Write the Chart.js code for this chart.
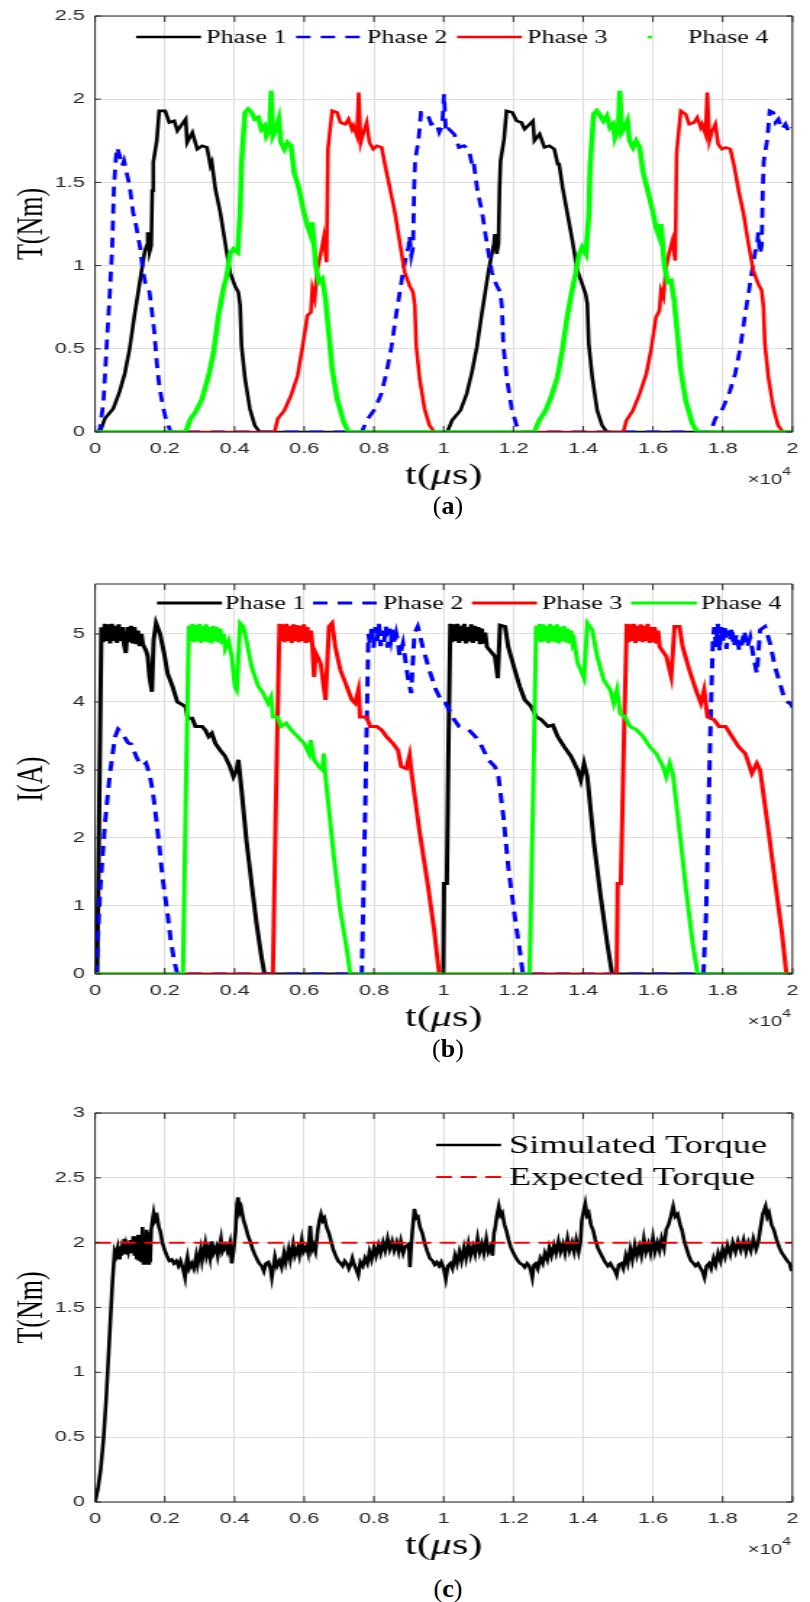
<!DOCTYPE html>
<html lang="en">
<head>
<meta charset="UTF-8">
<title>Phase torque and current</title>
<style>
  body { margin: 0; background: #fff; }
  #page { position: relative; width: 810px; height: 1602px; overflow: hidden; background: #fff; }
  /* the original figure is stretched sideways, so each panel is drawn narrow and widened */
  .panel { position: absolute; left: 0; transform: scaleX(1.449); transform-origin: 0 0; }
  .cap { position: absolute; left: 348px; width: 200px; text-align: center;
         font: 26px "Liberation Serif", "Times New Roman", serif; line-height: 26px; color: #000; }
</style>
</head>
<body>
<div id="page">
  <canvas id="chartA" class="panel" width="559" height="500" style="top:0px"></canvas>
  <canvas id="chartB" class="panel" width="559" height="480" style="top:560px"></canvas>
  <canvas id="chartC" class="panel" width="559" height="470" style="top:1090px"></canvas>
  <div class="cap" style="top:493px">(<b>a</b>)</div>
  <div class="cap" style="top:1036px">(<b>b</b>)</div>
  <div class="cap" style="top:1576px">(<b>c</b>)</div>
</div>
<script src="https://cdn.jsdelivr.net/npm/chart.js@4.4.1/dist/chart.umd.min.js"></script>
<script>
// time axis in microseconds, labels are shown in units of 1e4
const xTicks = [0, 2000, 4000, 6000, 8000, 10000, 12000, 14000, 16000, 18000, 20000];
const xTickLabels = ['0', '0.2', '0.4', '0.6', '0.8', '1', '1.2', '1.4', '1.6', '1.8', '2'];
const torqueTicks = [0, 0.5, 1, 1.5, 2, 2.5];
const currentTicks = [0, 1, 2, 3, 4, 5];
const totalTicks = [0, 0.5, 1, 1.5, 2, 2.5, 3];
const phaseNames = ['Phase 1', 'Phase 2', 'Phase 3', 'Phase 4'];
const totalNames = ['Simulated Torque', 'Expected Torque'];

// (a) phase torque, [t (us), T (Nm)]
const torquePhase1 = [[0,0],[140,0],[280,0.08],[520,0.14],[700,0.24],[850,0.35],[990,0.5],[1130,0.7],[1230,0.83],[1320,0.95],[1420,1.08],[1480,1.12],[1510,1.2],[1560,1.08],[1610,1.12],[1640,1.45],[1670,1.62],[1770,1.75],[1840,1.93],[2010,1.93],[2130,1.86],[2270,1.87],[2360,1.81],[2600,1.88],[2640,1.74],[2790,1.8],[2930,1.7],[3070,1.72],[3210,1.71],[3310,1.6],[3350,1.62],[3450,1.46],[3590,1.32],[3730,1.14],[3870,0.96],[4010,0.88],[4110,0.84],[4160,0.76],[4200,0.52],[4300,0.32],[4440,0.14],[4580,0.04],[4720,0],
  [10100,0],[10240,0.07],[10480,0.13],[10660,0.23],[10810,0.36],[10950,0.51],[11090,0.71],[11190,0.84],[11280,0.96],[11380,1.07],[11440,1.13],[11470,1.19],[11520,1.07],[11570,1.13],[11600,1.46],[11630,1.63],[11730,1.76],[11800,1.93],[11970,1.92],[12090,1.87],[12230,1.86],[12320,1.82],[12560,1.87],[12600,1.75],[12750,1.79],[12890,1.71],[13030,1.72],[13170,1.7],[13270,1.61],[13310,1.61],[13410,1.47],[13550,1.31],[13690,1.15],[13830,0.97],[13970,0.89],[14070,0.83],[14120,0.77],[14160,0.53],[14260,0.33],[14400,0.13],[14540,0.04],[14680,0],[20000,0]];
const torquePhase2 = [[0,0],[90,0],[140,0.02],[240,0.18],[330,0.51],[425,0.84],[490,1.1],[540,1.46],[595,1.64],[630,1.71],[710,1.66],[780,1.6],[830,1.63],[945,1.52],[990,1.48],[1090,1.32],[1160,1.26],[1230,1.18],[1300,1.1],[1370,0.97],[1445,0.89],[1510,0.87],[1560,0.84],[1610,0.76],[1700,0.6],[1770,0.42],[1840,0.28],[1940,0.16],[2030,0.08],[2170,0],
  [7650,0],[7790,0.07],[8030,0.14],[8210,0.23],[8360,0.36],[8500,0.51],[8640,0.71],[8740,0.84],[8830,0.96],[8930,1.07],[8990,1.11],[9020,1.18],[9070,1.06],[9120,1.11],[9150,1.46],[9180,1.63],[9280,1.76],[9350,1.92],[9520,1.92],[9640,1.85],[9780,1.86],[9870,1.8],[9960,1.84],[10010,2.03],[10060,1.8],[10150,1.82],[10300,1.79],[10440,1.71],[10580,1.72],[10720,1.7],[10820,1.6],[10860,1.62],[10960,1.46],[11100,1.32],[11240,1.13],[11380,0.96],[11520,0.88],[11620,0.84],[11670,0.75],[11710,0.52],[11810,0.32],[11950,0.14],[12090,0.04],[12230,0],
  [17650,0],[17790,0.08],[18000,0.14],[18200,0.24],[18360,0.35],[18500,0.5],[18640,0.7],[18740,0.83],[18830,0.95],[18930,1.08],[18990,1.12],[19020,1.2],[19070,1.07],[19120,1.12],[19150,1.45],[19180,1.63],[19280,1.76],[19350,1.93],[19450,1.92],[19520,1.86],[19600,1.88],[19700,1.82],[19800,1.85],[19900,1.8],[20000,1.83]];
const torquePhase3 = [[0,0],[5150,0],[5240,0.08],[5430,0.13],[5620,0.22],[5810,0.34],[5950,0.51],[6090,0.7],[6190,0.72],[6230,0.86],[6300,0.8],[6370,0.97],[6470,1.07],[6560,1.17],[6640,1.02],[6680,1.7],[6800,1.93],[6940,1.92],[7040,1.86],[7180,1.85],[7270,1.88],[7370,1.82],[7410,1.84],[7510,1.78],[7560,2.04],[7620,1.74],[7700,1.8],[7790,1.86],[7870,1.74],[7980,1.7],[8080,1.72],[8220,1.71],[8320,1.6],[8460,1.46],[8600,1.32],[8740,1.14],[8880,0.96],[9020,0.88],[9120,0.84],[9170,0.76],[9210,0.52],[9310,0.32],[9450,0.14],[9590,0.04],[9730,0],
  [15150,0],[15240,0.07],[15430,0.13],[15620,0.23],[15810,0.35],[15950,0.5],[16090,0.69],[16190,0.73],[16230,0.85],[16300,0.81],[16370,0.98],[16470,1.08],[16560,1.15],[16640,1.03],[16680,1.68],[16800,1.93],[16940,1.91],[17040,1.85],[17180,1.86],[17270,1.89],[17370,1.83],[17410,1.85],[17510,1.79],[17560,2.04],[17620,1.75],[17700,1.81],[17790,1.85],[17870,1.73],[17980,1.7],[18080,1.71],[18220,1.7],[18320,1.61],[18460,1.45],[18600,1.31],[18740,1.13],[18880,0.97],[19020,0.89],[19120,0.85],[19170,0.75],[19210,0.53],[19310,0.33],[19450,0.15],[19590,0.04],[19730,0],[20000,0]];
const torquePhase4 = [[0,0],[2600,0],[2740,0.08],[2880,0.12],[3070,0.2],[3260,0.34],[3400,0.48],[3540,0.7],[3680,0.86],[3780,0.94],[3870,1.07],[3970,1.1],[4090,1.08],[4160,1.32],[4200,1.62],[4300,1.92],[4390,1.94],[4490,1.92],[4580,1.88],[4680,1.89],[4770,1.82],[4860,1.84],[4910,1.78],[5010,1.82],[5050,2.05],[5100,1.78],[5190,1.82],[5270,1.88],[5330,1.74],[5430,1.7],[5520,1.74],[5620,1.72],[5710,1.56],[5850,1.46],[5990,1.32],[6090,1.24],[6190,1.18],[6230,1.26],[6330,1.0],[6420,0.9],[6520,0.92],[6610,0.8],[6710,0.58],[6800,0.38],[6940,0.2],[7130,0.06],[7270,0],
  [12600,0],[12740,0.07],[12900,0.12],[13080,0.21],[13260,0.33],[13400,0.49],[13540,0.69],[13680,0.85],[13780,0.95],[13870,1.06],[13970,1.11],[14080,1.07],[14160,1.3],[14200,1.6],[14300,1.91],[14390,1.93],[14490,1.9],[14580,1.87],[14680,1.9],[14770,1.83],[14860,1.85],[14910,1.77],[15010,1.83],[15050,2.05],[15100,1.8],[15190,1.83],[15270,1.87],[15330,1.75],[15430,1.71],[15520,1.75],[15620,1.71],[15710,1.57],[15850,1.45],[15990,1.33],[16090,1.23],[16190,1.17],[16230,1.25],[16330,1.0],[16420,0.9],[16520,0.91],[16610,0.79],[16710,0.57],[16800,0.37],[16940,0.19],[17130,0.05],[17270,0],[20000,0]];

// (b) phase current, [t (us), I (A)]
const currentPhase1 = [[0,0],[60,0],[120,2.5],[180,5.1],[230,4.88],[280,5.15],[330,4.9],[380,5.14],[430,4.86],[480,5.15],[530,4.9],[580,5.12],[630,4.87],[680,5.14],[730,4.9],[780,5.1],[830,4.85],[880,4.72],[930,5.1],[980,4.88],[1030,5.12],[1080,4.86],[1130,5.1],[1180,4.85],[1230,5.05],[1280,4.82],[1330,5.0],[1370,4.85],
  [1465,4.75],[1510,4.67],[1560,4.37],[1630,4.15],[1680,4.91],[1750,5.16],[1860,5.01],[1980,4.72],[2080,4.42],[2220,4.23],[2360,4.0],[2500,3.96],[2600,3.93],[2660,3.76],[2785,3.76],[2880,3.64],[3070,3.64],[3160,3.59],[3260,3.49],[3350,3.54],[3450,3.39],[3590,3.29],[3730,3.2],[3870,3.05],[3970,2.9],[4060,3.0],[4110,3.15],[4200,2.71],[4340,1.97],[4490,1.33],[4630,0.75],[4770,0.26],[4860,0],
  [9990,0],[10010,1.33],[10090,1.33],[10140,3.5],[10190,5.15],[10240,4.88],[10290,5.14],[10340,4.9],[10390,5.15],[10440,4.87],[10490,5.12],[10540,4.9],[10590,5.15],[10640,4.86],[10690,5.1],[10740,4.89],[10790,5.14],[10840,4.87],[10890,5.12],[10940,4.9],[10990,5.1],[11040,4.85],[11090,5.08],[11140,4.86],[11190,5.02],[11240,4.81],
  [11470,4.67],[11550,4.35],[11615,5.13],[11760,5.11],[11850,4.81],[12040,4.47],[12180,4.23],[12325,4.03],[12510,3.93],[12660,3.78],[12800,3.74],[12990,3.64],[13130,3.66],[13270,3.49],[13460,3.34],[13650,3.2],[13840,3.0],[13930,2.85],[14025,3.1],[14120,2.9],[14310,1.92],[14500,1.14],[14690,0.45],[14830,0],[20000,0]];
const currentPhase2 = [[0,0],[30,0],[140,1.2],[280,2.2],[425,2.94],[570,3.48],[660,3.6],[800,3.52],[945,3.4],[1040,3.38],[1180,3.2],[1275,3.1],[1370,3.06],[1460,3.1],[1560,2.94],[1650,2.7],[1750,2.3],[1840,1.9],[1935,1.42],[2080,0.88],[2170,0.5],[2265,0.2],[2360,0],
  [7650,0],[7750,2.5],[7840,5.0],[7890,4.85],[7940,5.12],[7990,4.8],[8040,5.1],[8090,4.9],[8140,5.15],[8190,4.82],[8240,5.05],[8290,4.88],[8340,5.12],[8390,4.8],[8440,5.08],[8490,4.92],[8540,5.1],[8590,4.85],[8640,5.0],[8690,4.88],[8735,4.67],
  [8830,4.86],[8970,4.37],[9065,4.13],[9160,5.01],[9255,5.11],[9400,4.81],[9585,4.47],[9775,4.18],[9970,3.98],[10060,3.98],[10250,3.78],[10435,3.64],[10720,3.59],[11000,3.44],[11280,3.15],[11470,3.05],[11570,2.9],[11710,2.32],[11850,1.58],[12040,0.84],[12180,0.35],[12270,0],
  [17450,0],[17520,0.8],[17560,1.6],[17600,2.5],[17640,3.4],[17680,4.2],[17720,4.9],[17760,5.1],[17810,4.8],[17860,5.15],[17910,4.75],[17960,5.1],[18010,4.88],[18060,5.12],[18110,4.78],[18160,5.05],[18210,4.9],[18260,5.1],[18320,4.81],[18400,5.0],[18480,4.75],[18555,4.86],[18620,5.05],[18700,4.8],[18790,4.95],[18885,4.67],[18980,4.42],[19075,5.06],[19215,5.11],[19360,4.86],[19500,4.52],[19640,4.28],[19785,4.03],[19975,3.96],[20000,3.92]];
const currentPhase3 = [[0,0],[5100,0],[5190,2.6],[5290,5.15],[5340,4.9],[5390,5.14],[5440,4.88],[5490,5.15],[5540,4.9],[5590,5.12],[5640,4.87],[5690,5.14],[5740,4.9],[5790,5.13],[5840,4.88],[5890,5.12],[5940,4.9],[5990,5.14],[6040,4.87],[6090,5.1],[6140,4.88],[6190,5.05],[6230,4.85],
  [6280,4.37],[6330,4.72],[6470,4.57],[6610,4.03],[6710,5.11],[6800,5.16],[6890,4.81],[7035,4.47],[7180,4.28],[7365,4.03],[7460,3.98],[7555,4.18],[7600,3.78],[7790,3.78],[7890,3.64],[8075,3.64],[8215,3.59],[8360,3.49],[8545,3.39],[8690,3.29],[8780,3.05],[8925,3.02],[9020,3.22],[9065,3.0],[9300,2.12],[9540,1.33],[9725,0.65],[9870,0],
  [14960,0],[14990,1.33],[15080,1.33],[15170,3.5],[15250,5.15],[15300,4.88],[15350,5.14],[15400,4.9],[15450,5.15],[15500,4.87],[15550,5.12],[15600,4.9],[15650,5.14],[15700,4.88],[15750,5.12],[15800,4.9],[15850,5.15],[15900,4.87],[15950,5.1],[16000,4.88],[16050,5.1],[16100,4.86],[16150,5.05],[16195,4.81],
  [16385,4.67],[16525,4.37],[16620,5.11],[16760,5.11],[16855,4.81],[17045,4.47],[17230,4.18],[17375,3.98],[17470,4.18],[17565,3.78],[17750,3.74],[17895,3.64],[18085,3.64],[18270,3.49],[18460,3.34],[18650,3.24],[18840,2.95],[18980,3.1],[19075,3.0],[19310,2.12],[19500,1.38],[19690,0.65],[19830,0],[20000,0]];
const currentPhase4 = [[0,0],[2520,0],[2600,2.5],[2690,5.12],[2740,4.9],[2790,5.15],[2840,4.88],[2890,5.13],[2940,4.9],[2990,5.15],[3040,4.87],[3090,5.12],[3140,4.9],[3190,5.14],[3240,4.88],[3290,5.1],[3340,4.86],[3390,5.12],[3440,4.9],[3490,5.1],[3540,4.88],[3590,5.08],[3640,4.85],[3690,5.0],[3730,4.78],
  [3830,4.9],[3920,4.67],[4010,4.23],[4060,4.18],[4160,5.16],[4250,5.11],[4340,4.91],[4490,4.52],[4680,4.23],[4820,4.13],[4960,3.98],[5050,4.08],[5100,3.78],[5240,3.78],[5330,3.64],[5480,3.69],[5620,3.59],[5810,3.49],[6000,3.39],[6140,3.24],[6185,3.44],[6280,3.15],[6420,3.05],[6520,3.0],[6560,3.24],[6610,2.9],[6850,1.72],[7030,0.94],[7225,0.35],[7320,0],
  [12460,0],[12560,2.5],[12650,5.12],[12700,4.9],[12750,5.15],[12800,4.88],[12850,5.14],[12900,4.9],[12950,5.12],[13000,4.87],[13050,5.15],[13100,4.9],[13150,5.12],[13200,4.88],[13250,5.14],[13300,4.86],[13350,5.1],[13400,4.9],[13450,5.12],[13500,4.88],[13550,5.08],[13600,4.86],[13650,5.05],[13700,4.85],[13740,4.9],
  [13840,4.57],[13930,4.47],[14025,4.35],[14120,5.16],[14260,5.06],[14400,4.67],[14590,4.32],[14780,4.18],[14875,3.98],[14970,4.18],[15060,3.83],[15200,3.78],[15345,3.64],[15530,3.59],[15720,3.49],[15910,3.34],[16100,3.24],[16290,3.05],[16380,2.9],[16480,3.1],[16570,2.95],[16760,2.12],[16950,1.24],[17140,0.45],[17280,0],[20000,0]];

// (c) total torque, [t (us), T (Nm)]
const simulatedTorque = [[0,0],[80,0.1],[160,0.25],[240,0.48],[320,0.8],[380,1.1],[440,1.4],[500,1.7],[560,1.93],[600,1.9],[650,1.96],[690,1.88],[710,1.97],[750,1.9],[770,1.95],[800,1.92],[840,2.03],[870,1.91],[900,1.98],[950,1.93],[1010,2.02],[1040,1.92],[1100,2.05],[1130,1.9],[1160,2.0],[1200,1.87],[1230,2.06],[1260,1.86],[1290,2.0],[1330,1.85],[1360,2.12],[1390,1.84],[1420,2.0],[1450,1.85],[1480,2.1],[1520,1.84],[1550,2.08],[1580,1.85],[1610,2.1],[1650,2.18],[1680,2.23],[1720,2.17],[1780,2.2],[1830,2.12],[1870,2.09],[1930,2.0],[2000,1.94],[2060,1.9],[2130,1.86],[2200,1.87],[2260,1.84],[2330,1.86],[2390,1.82],[2450,1.86],[2520,1.8],[2580,1.73],[2620,1.85],[2650,1.89],[2700,1.8],[2770,1.84],[2830,1.8],[2900,1.9],[2940,1.83],[3030,1.95],[3070,1.86],[3160,1.99],[3200,1.9],[3250,1.95],[3300,1.88],[3350,2.01],[3400,1.92],[3480,1.97],[3520,1.9],[3610,2.03],[3650,1.93],[3740,1.98],[3800,1.93],[3870,2.0],[3920,1.84],[3970,1.93],[4030,2.09],[4070,2.3],[4100,2.35],[4150,2.24],[4190,2.27],[4260,2.17],[4320,2.12],[4390,2.05],[4450,2.01],[4520,1.95],[4580,1.91],[4650,1.87],[4710,1.84],[4780,1.82],[4840,1.78],[4900,1.84],[4970,1.85],[5030,1.8],[5070,1.73],[5120,1.82],[5160,1.89],[5220,1.82],[5290,1.86],[5350,1.81],[5420,1.92],[5470,1.85],[5550,1.95],[5600,1.87],[5680,1.99],[5730,1.9],[5810,1.96],[5860,1.9],[5930,2.02],[5980,1.93],[6060,1.97],[6110,1.92],[6170,2.13],[6220,1.95],[6260,1.98],[6320,1.93],[6390,2.1],[6440,2.18],[6480,2.22],[6530,2.17],[6580,2.19],[6640,2.12],[6710,2.07],[6780,2.0],[6840,1.94],[6900,1.9],[6970,1.86],[7040,1.84],[7100,1.82],[7160,1.86],[7220,1.84],[7280,1.8],[7330,1.83],[7380,1.88],[7420,1.84],[7480,1.8],[7550,1.75],[7610,1.85],[7680,1.82],[7740,1.88],[7810,1.84],[7870,1.93],[7930,1.87],[8000,1.96],[8060,1.9],[8130,1.98],[8190,1.92],[8260,2.0],[8320,1.94],[8390,2.03],[8450,1.95],[8520,2.01],[8580,1.94],[8650,2.0],[8710,1.93],[8770,2.01],[8840,1.92],[8900,1.97],[9000,1.99],[9030,1.81],[9060,1.95],[9100,2.09],[9160,2.26],[9210,2.19],[9260,2.2],[9320,2.12],[9390,2.07],[9450,2.0],[9520,1.94],[9600,1.88],[9680,1.86],[9740,1.83],[9800,1.85],[9870,1.82],[9930,1.85],[10000,1.8],[10060,1.72],[10120,1.82],[10190,1.84],[10250,1.8],[10320,1.9],[10380,1.84],[10450,1.93],[10510,1.86],[10580,1.96],[10640,1.88],[10710,1.99],[10770,1.9],[10840,1.97],[10900,1.91],[10970,2.03],[11030,1.93],[11090,1.99],[11150,1.92],[11220,2.03],[11280,1.93],[11350,1.97],[11400,1.9],[11440,2.07],[11480,2.12],[11520,2.2],[11580,2.28],[11630,2.21],[11680,2.23],[11740,2.14],[11800,2.09],[11860,2.02],[11930,1.96],[12000,1.92],[12060,1.89],[12130,1.86],[12190,1.84],[12260,1.83],[12320,1.81],[12390,1.84],[12450,1.82],[12500,1.78],[12540,1.73],[12590,1.83],[12640,1.84],[12700,1.8],[12770,1.88],[12840,1.84],[12900,1.92],[12970,1.87],[13030,1.96],[13090,1.9],[13160,1.98],[13220,1.92],[13290,2.01],[13350,1.93],[13420,1.99],[13480,1.92],[13550,2.03],[13610,1.94],[13680,2.0],[13740,1.93],[13800,2.02],[13870,1.93],[13920,2.0],[13960,2.17],[14010,2.24],[14060,2.3],[14110,2.21],[14160,2.23],[14220,2.14],[14290,2.09],[14350,2.02],[14420,1.96],[14490,1.92],[14550,1.89],[14630,1.85],[14710,1.82],[14780,1.84],[14840,1.81],[14900,1.79],[14960,1.75],[15020,1.83],[15090,1.84],[15150,1.8],[15220,1.9],[15280,1.84],[15350,1.95],[15410,1.87],[15480,1.98],[15540,1.9],[15610,1.97],[15670,1.9],[15740,2.03],[15800,1.93],[15870,1.99],[15930,1.92],[16000,2.04],[16060,1.93],[16130,2.0],[16190,1.94],[16250,2.03],[16320,1.96],[16380,2.1],[16450,2.14],[16510,2.2],[16580,2.28],[16640,2.2],[16710,2.22],[16780,2.14],[16840,2.09],[16900,2.01],[16960,1.96],[17030,1.9],[17090,1.86],[17160,1.84],[17220,1.82],[17290,1.84],[17350,1.81],[17420,1.78],[17480,1.73],[17540,1.82],[17610,1.84],[17670,1.8],[17740,1.88],[17800,1.83],[17870,1.92],[17940,1.86],[18000,1.95],[18070,1.89],[18140,1.98],[18220,1.91],[18290,2.0],[18370,1.93],[18440,2.01],[18520,1.94],[18600,2.02],[18670,1.93],[18740,2.0],[18810,1.94],[18880,2.03],[18960,1.95],[19020,2.0],[19070,2.09],[19150,2.22],[19230,2.28],[19280,2.2],[19330,2.23],[19400,2.14],[19480,2.09],[19550,2.02],[19630,1.96],[19700,1.92],[19780,1.89],[19850,1.86],[19920,1.84],[19970,1.79],[20000,1.83]];
const expectedTorque = [[0,2],[20000,2]];

const AXIS = '#262626';
const GRID = '#dedede';
const SANS = '"Liberation Sans", Arial, sans-serif';
const SERIF = '"Liberation Serif", "Times New Roman", serif';

const pts = arr => arr.map(([x, y]) => ({ x, y }));

// box, inward ticks, axis titles, x10^4 and a MATLAB style legend
const matlabAxes = {
  id: 'matlabAxes',
  afterDraw(chart, args, o) {
    const { ctx, chartArea: a } = chart;
    const xs = chart.scales.x, ys = chart.scales.y;
    ctx.save();
    ctx.strokeStyle = AXIS;
    ctx.lineWidth = 1;
    ctx.setLineDash([]);
    ctx.beginPath();
    ctx.rect(a.left, a.top, a.right - a.left, a.bottom - a.top);
    xs.ticks.forEach(t => {
      const p = xs.getPixelForValue(t.value);
      ctx.moveTo(p, a.bottom); ctx.lineTo(p, a.bottom - 6);
      ctx.moveTo(p, a.top); ctx.lineTo(p, a.top + 6);
    });
    ys.ticks.forEach(t => {
      const p = ys.getPixelForValue(t.value);
      ctx.moveTo(a.left, p); ctx.lineTo(a.left + 4, p);
      ctx.moveTo(a.right, p); ctx.lineTo(a.right - 4, p);
    });
    ctx.stroke();

    // x title t(mu s)
    ctx.fillStyle = '#000';
    ctx.textBaseline = 'middle';
    ctx.textAlign = 'left';
    const parts = [['t(', ''], ['\u03bc', 'italic '], ['s)', '']];
    let w = 0;
    parts.forEach(p => { ctx.font = p[1] + '29px ' + SERIF; w += ctx.measureText(p[0]).width; });
    let cx = (a.left + a.right) / 2 - w / 2;
    parts.forEach(p => {
      ctx.font = p[1] + '29px ' + SERIF;
      ctx.fillText(p[0], cx, a.bottom + 44);
      cx += ctx.measureText(p[0]).width;
    });

    // exponent
    ctx.fillStyle = AXIS;
    ctx.textAlign = 'right';
    ctx.font = '11px ' + SANS;
    ctx.fillText('4', a.right - 1, a.bottom + 40);
    const w4 = ctx.measureText('4').width;
    ctx.font = '14px ' + SANS;
    ctx.fillText('\u00d710', a.right - 1 - w4, a.bottom + 48);

    // y title
    ctx.save();
    ctx.translate(22, (a.top + a.bottom) / 2);
    ctx.rotate(-Math.PI / 2);
    ctx.textAlign = 'center';
    ctx.fillStyle = '#000';
    ctx.font = '26px ' + SERIF;
    ctx.fillText(o.yTitle, 0, 0);
    ctx.restore();

    // legend
    ctx.textAlign = 'left';
    o.legend.forEach(it => {
      if (it.dot) {
        ctx.fillStyle = it.color;
        ctx.beginPath();
        ctx.arc((it.x0 + it.x1) / 2, it.y, 1.6, 0, Math.PI * 2);
        ctx.fill();
      } else {
        ctx.strokeStyle = it.color;
        ctx.lineWidth = it.width;
        ctx.setLineDash(it.dash || []);
        ctx.beginPath();
        ctx.moveTo(it.x0, it.y);
        ctx.lineTo(it.x1, it.y);
        ctx.stroke();
        ctx.setLineDash([]);
      }
      ctx.fillStyle = '#000';
      ctx.font = it.size + 'px ' + SERIF;
      ctx.fillText(it.label, it.tx, it.y + 1);
    });
    ctx.restore();
  }
};

function panel(id, cfg) {
  return new Chart(document.getElementById(id), {
    type: 'line',
    data: { datasets: cfg.datasets },
    options: {
      responsive: false,
      animation: false,
      events: [],
      layout: { padding: { top: cfg.top, right: 6.2, left: 0, bottom: 0 } },
      elements: { point: { radius: 0 }, line: { tension: 0 } },
      plugins: {
        legend: { display: false },
        tooltip: { enabled: false },
        matlabAxes: { yTitle: cfg.yTitle, legend: cfg.legend }
      },
      scales: {
        x: {
          type: 'linear', min: 0, max: 20000,
          afterBuildTicks: s => { s.ticks = xTicks.map(v => ({ value: v })); },
          afterFit: s => { s.height = cfg.xh; },
          grid: { color: GRID, drawTicks: false },
          border: { display: false },
          ticks: { autoSkip: false, maxRotation: 0, padding: 8, color: AXIS,
                   font: { family: SANS, size: 15 }, callback: (v, i) => xTickLabels[i] }
        },
        y: {
          type: 'linear', min: cfg.yMin, max: cfg.yMax,
          afterBuildTicks: s => { s.ticks = cfg.yTicks.map(v => ({ value: v })); },
          afterFit: s => { s.width = 65.6; },
          grid: { color: GRID, drawTicks: false },
          border: { display: false },
          ticks: { padding: 7, color: AXIS, font: { family: SANS, size: 15 }, callback: v => String(v) }
        }
      }
    },
    plugins: [matlabAxes]
  });
}

const BLACK = '#000000', BLUE = '#0000ff', RED = '#ff0000', GREEN = '#00ff00';

panel('chartA', {
  top: 15, xh: 68, yMin: 0, yMax: 2.5, yTicks: torqueTicks, yTitle: 'T(Nm)',
  datasets: [
    { label: phaseNames[0], data: pts(torquePhase1), borderColor: BLACK, borderWidth: 2.6, order: 3 },
    { label: phaseNames[1], data: pts(torquePhase2), borderColor: BLUE, borderWidth: 2.8, borderDash: [10, 7], order: 2 },
    { label: phaseNames[2], data: pts(torquePhase3), borderColor: RED, borderWidth: 2.6, order: 1 },
    { label: phaseNames[3], data: pts(torquePhase4), borderColor: GREEN, borderWidth: 3.6, order: 0 }
  ],
  legend: [
    { label: phaseNames[0], color: BLACK, width: 2.6, x0: 93.9, x1: 138.7, tx: 142.2, y: 37, size: 18 },
    { label: phaseNames[1], color: BLUE, width: 2.6, dash: [10, 7], x0: 204.3, x1: 248.4, tx: 253.3, y: 37, size: 18 },
    { label: phaseNames[2], color: RED, width: 2.6, x0: 315.4, x1: 360.2, tx: 363.7, y: 37, size: 18 },
    { label: phaseNames[3], color: GREEN, dot: true, x0: 426, x1: 471, tx: 474.8, y: 37, size: 18 }
  ]
});

panel('chartB', {
  top: 24, xh: 66, yMin: 0, yMax: 5.735, yTicks: currentTicks, yTitle: 'I(A)',
  datasets: [
    { label: phaseNames[0], data: pts(currentPhase1), borderColor: BLACK, borderWidth: 3, order: 3 },
    { label: phaseNames[1], data: pts(currentPhase2), borderColor: BLUE, borderWidth: 3, borderDash: [10, 7], order: 2 },
    { label: phaseNames[2], data: pts(currentPhase3), borderColor: RED, borderWidth: 3, order: 1 },
    { label: phaseNames[3], data: pts(currentPhase4), borderColor: GREEN, borderWidth: 3, order: 0 }
  ],
  legend: [
    { label: phaseNames[0], color: BLACK, width: 3, x0: 108.4, x1: 153.2, tx: 155.3, y: 43, size: 18 },
    { label: phaseNames[1], color: BLUE, width: 3, dash: [10, 7], x0: 216, x1: 262.2, tx: 264.3, y: 43, size: 18 },
    { label: phaseNames[2], color: RED, width: 3, x0: 325.7, x1: 370.6, tx: 374, y: 43, size: 18 },
    { label: phaseNames[3], color: GREEN, width: 3, x0: 435.5, x1: 481, tx: 483.8, y: 43, size: 18 }
  ]
});

panel('chartC', {
  top: 23, xh: 58, yMin: 0, yMax: 3, yTicks: totalTicks, yTitle: 'T(Nm)',
  datasets: [
    { label: totalNames[0], data: pts(simulatedTorque), borderColor: BLACK, borderWidth: 2.6, order: 1 },
    { label: totalNames[1], data: pts(expectedTorque), borderColor: RED, borderWidth: 2, borderDash: [11, 6], order: 0 }
  ],
  legend: [
    { label: totalNames[0], color: BLACK, width: 2.6, x0: 300.9, x1: 345.8, tx: 351.3, y: 55, size: 25 },
    { label: totalNames[1], color: RED, width: 2, dash: [11, 6], x0: 300.9, x1: 345.8, tx: 351.3, y: 87, size: 25 }
  ]
});
</script>
</body>
</html>
